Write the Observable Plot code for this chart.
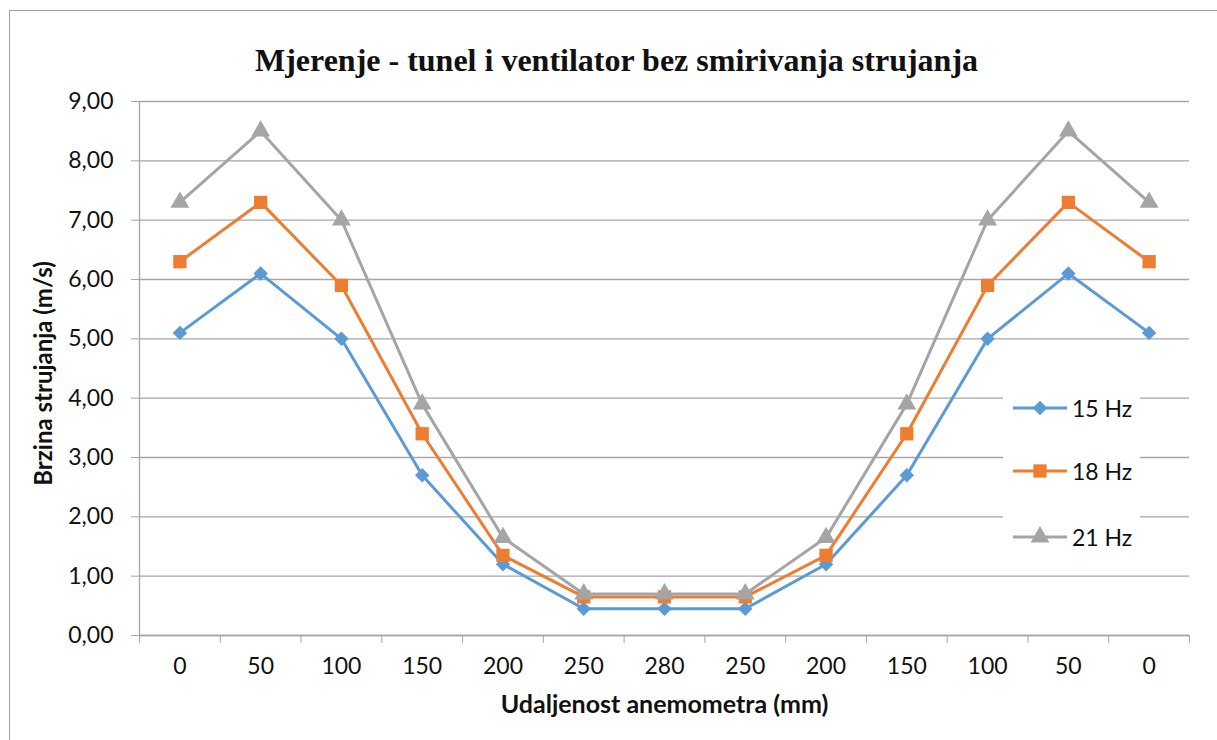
<!DOCTYPE html>
<html>
<head>
<meta charset="utf-8">
<script src="https://cdn.jsdelivr.net/npm/d3@7"></script>
<script src="https://cdn.jsdelivr.net/npm/@observablehq/plot@0.6"></script>
<style>
  html, body { margin: 0; padding: 0; background: #fff; }
  #wrap { position: relative; width: 1217px; height: 740px; overflow: hidden; }
  #border { position: absolute; left: 9px; top: 10px; width: 1300px; height: 800px;
            border-left: 1.5px solid #a0a0a0; border-top: 1.5px solid #a0a0a0; pointer-events: none; }
  #legend { position: absolute; left: 1003px; top: 382px; width: 137px; height: 180px; background: #fff;
            font-family: Lato, "Open Sans", sans-serif; font-size: 23px; color: #111; }
  .row { position: absolute; left: 10px; height: 24px; display: flex; align-items: center; }
  .row svg { display: block; }
  .row span { margin-left: 5px; }
</style>
</head>
<body>
<div id="wrap">
  <div id="chart"></div>
  <div id="border"></div>
  <div id="legend"></div>
</div>
<script>
const title = "Mjerenje - tunel i ventilator bez smirivanja strujanja";
const xTitle = "Udaljenost anemometra (mm)";
const yTitle = "Brzina strujanja (m/s)";
const categories = ["0", "50", "100", "150", "200", "250", "280", "250", "200", "150", "100", "50", "0"];
const series = ["15 Hz", "18 Hz", "21 Hz"];
const hz15 = [5.1, 6.1, 5.0, 2.7, 1.2, 0.45, 0.45, 0.45, 1.2, 2.7, 5.0, 6.1, 5.1];
const hz18 = [6.3, 7.3, 5.9, 3.4, 1.35, 0.65, 0.65, 0.65, 1.35, 3.4, 5.9, 7.3, 6.3];
const hz21 = [7.3, 8.5, 7.0, 3.9, 1.65, 0.7, 0.7, 0.7, 1.65, 3.9, 7.0, 8.5, 7.3];
const yTicks = [0, 1, 2, 3, 4, 5, 6, 7, 8, 9];

const colors = ["#5b9bd5", "#ed7d31", "#a5a5a5"];
const symbols = ["diamond2", "square", "triangle"];
const radii = [6.5, 7.5, 7];
const values = [hz15, hz18, hz21];

const rows = [];
series.forEach((s, k) => values[k].forEach((v, i) => rows.push({series: s, i, v})));

const idx = d3.range(categories.length);
const bounds = d3.range(categories.length + 1).map(i => i - 0.5);
const grid = "#a6a6a6";
const font = "Lato, 'Open Sans', sans-serif";

const marks = [
  Plot.gridY(yTicks, {stroke: grid, strokeOpacity: 1, strokeWidth: 1.3}),
  Plot.ruleX([-0.5], {y1: 0, y2: 9, stroke: grid, strokeWidth: 1.3}),
  Plot.axisY(yTicks, {tickSize: 8, tickPadding: 18, stroke: grid, strokeOpacity: 1, fill: "#111",
    tickFormat: d => d.toFixed(2).replace(".", ","), fontSize: 23, fontFamily: font, label: null}),
  Plot.axisX(bounds, {tickSize: 8, tickFormat: () => "", stroke: grid, strokeOpacity: 1, label: null}),
  Plot.axisX(idx, {tickSize: 0, tickPadding: 22, tickFormat: i => categories[i], fill: "#111",
    fontSize: 23, fontFamily: font, label: null}),
  Plot.ruleY([0], {stroke: grid, strokeWidth: 1.3}),
];
series.forEach((s, k) => {
  const data = rows.filter(d => d.series === s);
  marks.push(Plot.line(data, {x: "i", y: "v", stroke: colors[k], strokeWidth: 3}));
  marks.push(Plot.dot(data, {x: "i", y: "v", symbol: () => symbols[k], fill: colors[k], stroke: "none", r: radii[k]}));
});
marks.push(
  Plot.text([title], {frameAnchor: "top", dx: -48, dy: -53, fontSize: 32, fontWeight: "bold",
    fontFamily: "'Liberation Serif', 'Times New Roman', serif", fill: "#111"}),
  Plot.text([xTitle], {frameAnchor: "bottom", dy: 77, fontSize: 25, fontWeight: "bold", fontFamily: font, fill: "#111"}),
  Plot.text([yTitle], {frameAnchor: "left", textAnchor: "middle", dx: -95, dy: 5, rotate: -90, fontSize: 24,
    fontWeight: "bold", fontFamily: font, fill: "#111"})
);

const chart = Plot.plot({
  width: 1217,
  height: 740,
  marginLeft: 139,
  marginRight: 28,
  marginTop: 101,
  marginBottom: 105,
  x: {type: "linear", domain: [-0.5, categories.length - 0.5], axis: null},
  y: {domain: [0, 9], axis: null},
  symbol: {type: "identity"},
  style: {fontFamily: font, background: "#fff"},
  marks
});
document.getElementById("chart").appendChild(chart);

// legend
const legend = document.getElementById("legend");
const rowTops = [14, 77, 143];
series.forEach((s, k) => {
  const row = document.createElement("div");
  row.className = "row";
  row.style.top = rowTops[k] + "px";
  const sym = d3.symbol(k === 0 ? d3.symbolDiamond2 : k === 1 ? d3.symbolSquare : d3.symbolTriangle,
    Math.PI * radii[k] * radii[k])();
  row.innerHTML = `<svg width="54" height="24"><line x1="0" x2="54" y1="12" y2="12" stroke="${colors[k]}" stroke-width="3"/>` +
    `<path d="${sym}" transform="translate(27,12)" fill="${colors[k]}"/></svg><span>${s}</span>`;
  legend.appendChild(row);
});
</script>
</body>
</html>
